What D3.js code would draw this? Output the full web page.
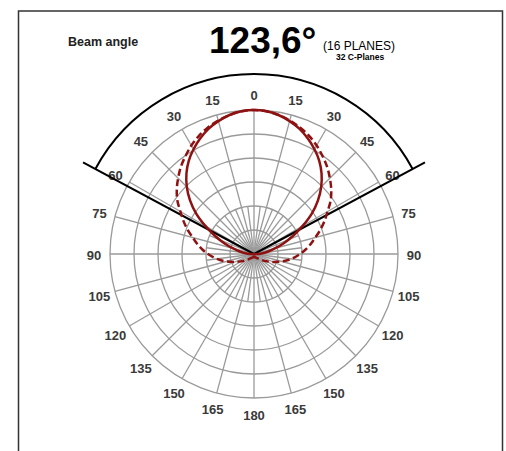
<!DOCTYPE html>
<html>
<head>
<meta charset="utf-8">
<script src="https://cdn.jsdelivr.net/npm/d3@7"></script>
<style>
body { margin: 0; background: #fff; }
svg { display: block; font-family: "Liberation Sans", Arial, sans-serif; }
.ring, .spoke { fill: none; stroke: #9a9a9a; stroke-width: 1.3; }
.anglelabel { fill: #3a3a3a; font-size: 13px; font-weight: bold; text-anchor: middle; dominant-baseline: central; }
</style>
</head>
<body>
<div id="polar"></div>
<script>
(function() {

const w = 506;
const h = 451;
const cx = 254;
const cy = 254;
const outerR = 144;

// gamma angles (deg) and relative intensities
const angles = [0, 5, 10, 15, 20, 25, 30, 35, 40, 45, 50, 55, 60, 65, 70, 75, 80, 85, 90,
                95, 100, 105, 110, 115, 120, 125, 130, 135, 140, 145, 150, 155, 160, 165, 170, 175, 180];
// C0-C180 plane (solid)
const planeC0 = [1.00, 0.995, 0.98, 0.955, 0.925, 0.885, 0.84, 0.79, 0.73, 0.66, 0.58, 0.49, 0.39, 0.30, 0.22, 0.15, 0.10, 0.06, 0.03,
                 0.01, 0.005, 0.004, 0.003, 0.003, 0.002, 0.002, 0.002, 0.002, 0.002, 0.002, 0.002, 0.002, 0.002, 0.002, 0.002, 0.002, 0.002];
// C90-C270 plane (dashed)
const planeC90 = [1.00, 0.995, 0.98, 0.96, 0.935, 0.905, 0.87, 0.83, 0.79, 0.745, 0.70, 0.65, 0.59, 0.54, 0.49, 0.44, 0.40, 0.36, 0.32,
                  0.28, 0.24, 0.20, 0.16, 0.13, 0.10, 0.08, 0.06, 0.05, 0.04, 0.035, 0.03, 0.028, 0.025, 0.022, 0.02, 0.02, 0.02];

const ringValues = [1/6, 2/6, 3/6, 4/6, 5/6, 1];
const labelAngles = [0, 15, 30, 45, 60, 75, 90, 105, 120, 135, 150, 165, 180];
const beamAngle = 123.6;

const rScale = d3.scaleLinear()
    .domain([0, 1])
    .range([0, outerR]);

const rad = function(deg) { return deg * Math.PI / 180; };

const svg = d3.select("#polar")
    .append("svg")
    .attr("width", w)
    .attr("height", h);

// frame
svg.append("rect")
    .attr("x", 18.5)
    .attr("y", 11)
    .attr("width", 484)
    .attr("height", 460)
    .attr("fill", "none")
    .attr("stroke", "#333")
    .attr("stroke-width", 1.5);

// titles
svg.append("text")
    .attr("x", 68)
    .attr("y", 46)
    .attr("font-size", "12.5px")
    .attr("font-weight", "bold")
    .attr("fill", "#222")
    .text("Beam angle");

svg.append("text")
    .attr("x", 209)
    .attr("y", 53)
    .attr("font-size", "37px")
    .attr("font-weight", "bold")
    .attr("fill", "#000")
    .text(String(beamAngle).replace(".", ",") + "°");

svg.append("text")
    .attr("x", 323)
    .attr("y", 49.5)
    .attr("font-size", "12px")
    .attr("fill", "#000")
    .text("(16 PLANES)");

svg.append("text")
    .attr("x", 336)
    .attr("y", 60)
    .attr("font-size", "8.5px")
    .attr("font-weight", "bold")
    .attr("fill", "#000")
    .text("32 C-Planes");

const g = svg.append("g")
    .attr("transform", `translate(${cx},${cy})`);

// rings
g.selectAll("circle.ring")
    .data(ringValues)
    .enter()
    .append("circle")
    .attr("class", "ring")
    .attr("r", function(d) { return rScale(d); });

// spokes: full every 15, shorter ones in between near the centre
const spokes = [];
for (let a = 0; a < 360; a += 7.5) {
    spokes.push({angle: a, len: (a % 15 === 0) ? 1 : 2/6});
}

g.selectAll("line.spoke")
    .data(spokes)
    .enter()
    .append("line")
    .attr("class", "spoke")
    .attr("x1", 0)
    .attr("y1", 0)
    .attr("x2", function(d) { return rScale(d.len) * Math.sin(rad(d.angle)); })
    .attr("y2", function(d) { return -rScale(d.len) * Math.cos(rad(d.angle)); });

// angle labels, both sides
const labels = [];
labelAngles.forEach(function(a) {
    labels.push({angle: a, text: String(a)});
    if (a !== 0 && a !== 180) labels.push({angle: -a, text: String(a)});
});

const labelR = 160;
g.selectAll("text.anglelabel")
    .data(labels)
    .enter()
    .append("text")
    .attr("class", "anglelabel")
    .attr("x", function(d) { return labelR * Math.sin(rad(d.angle)); })
    .attr("y", function(d) { return -labelR * Math.cos(rad(d.angle)) + 1; })
    .text(function(d) { return d.text; });

// beam angle marker
const half = beamAngle / 2;
const arcR = 180;
const lineR = 194;

g.append("path")
    .attr("d", d3.arc()
        .innerRadius(arcR)
        .outerRadius(arcR)
        .startAngle(rad(-half))
        .endAngle(rad(half))())
    .attr("fill", "none")
    .attr("stroke", "#000")
    .attr("stroke-width", 2);

[-half, half].forEach(function(a) {
    g.append("line")
        .attr("x1", 0)
        .attr("y1", 0)
        .attr("x2", lineR * Math.sin(rad(a)))
        .attr("y2", -lineR * Math.cos(rad(a)))
        .attr("stroke", "#000")
        .attr("stroke-width", 2);
});

// curves, mirrored to both sides
function mirrored(values) {
    const pts = [];
    for (let i = angles.length - 1; i > 0; i--) pts.push({a: -angles[i], v: values[i]});
    for (let i = 0; i < angles.length; i++) pts.push({a: angles[i], v: values[i]});
    return pts;
}

const radial = d3.lineRadial()
    .angle(function(d) { return rad(d.a); })
    .radius(function(d) { return rScale(d.v); })
    .curve(d3.curveCatmullRom);

g.append("path")
    .datum(mirrored(planeC90))
    .attr("d", radial)
    .attr("fill", "none")
    .attr("stroke", "#8e1212")
    .attr("stroke-width", 2.5)
    .attr("stroke-dasharray", "7,3.5");

g.append("path")
    .datum(mirrored(planeC0))
    .attr("d", radial)
    .attr("fill", "none")
    .attr("stroke", "#8e1212")
    .attr("stroke-width", 2.5);

})();
</script>
</body>
</html>
